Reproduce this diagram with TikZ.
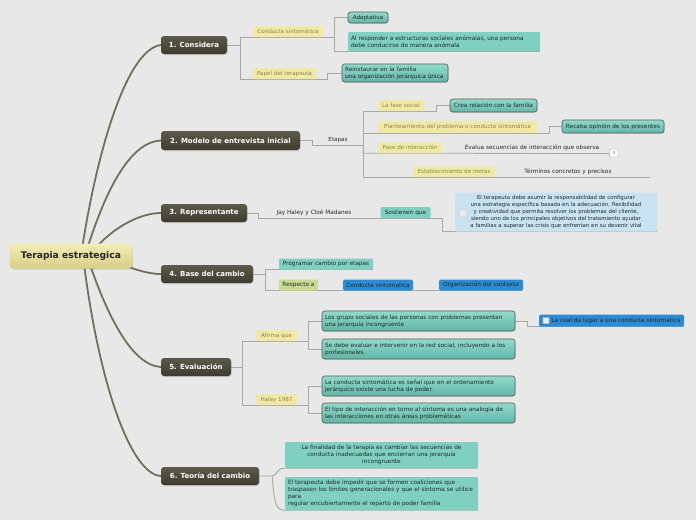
\documentclass[tikz,border=0pt]{standalone}
\usepackage{fontspec}
\setmainfont{DejaVu Sans}
\usepackage{tikz}
\usetikzlibrary{backgrounds, shadows, calc}

\definecolor{bgc}{HTML}{E8E8E8}
\definecolor{trunkc}{HTML}{716F5F}
\definecolor{subc}{HTML}{A9A9A3}
\definecolor{maintop}{HTML}{5C5A4A}
\definecolor{mainbot}{HTML}{3E3C30}
\definecolor{roottop}{HTML}{F3EDB8}
\definecolor{rootbot}{HTML}{D8CE86}
\definecolor{tagc}{HTML}{F0E9A6}
\definecolor{tagtext}{HTML}{8C8450}
\definecolor{tealc}{HTML}{7FD0C0}
\definecolor{tealtop}{HTML}{92DACB}
\definecolor{tealbot}{HTML}{62B5A7}
\definecolor{bluec}{HTML}{2C8BD3}
\definecolor{greenc}{HTML}{C9D98F}
\definecolor{lightblue}{HTML}{C8E2F2}
\definecolor{textc}{HTML}{1F2A2A}

\begin{document}
\begin{tikzpicture}[x=1pt, y=-1pt,
    every node/.style={inner sep=0pt, text=textc, font=\fontsize{5.6}{7}\selectfont},
    boxfont/.style={font=\fontsize{5.8}{7}\selectfont},
    rootbox/.style={rounded corners=4pt, top color=roottop, bottom color=rootbot,
      font=\fontsize{9.2}{11}\selectfont\bfseries, text=black!85,
      drop shadow={opacity=0.25, shadow xshift=0.6pt, shadow yshift=-1pt}},
    mainbox/.style={rounded corners=3pt, top color=maintop, bottom color=mainbot,
      minimum height=18, text=white, font=\fontsize{7}{8}\selectfont\bfseries,
      drop shadow={opacity=0.3, shadow xshift=0.6pt, shadow yshift=-1pt}},
    tagbox/.style={rounded corners=1pt, fill=tagc, minimum height=11, text=tagtext},
    framebox/.style={rounded corners=2.5pt, draw=black!65, line width=0.6pt,
      top color=tealtop, bottom color=tealbot, minimum height=11, inner xsep=3pt,
      drop shadow={opacity=0.2, shadow xshift=0.5pt, shadow yshift=-0.8pt}},
    tealbox/.style={rounded corners=1pt, fill=tealc, minimum height=11, inner xsep=3pt},
    bluebox/.style={rounded corners=1.5pt, fill=bluec, minimum height=11},
    greenbox/.style={rounded corners=1pt, fill=greenc, minimum height=11},
    noteblue/.style={rounded corners=1pt, fill=lightblue},
    plain/.style={minimum height=11},
    badge/.style={draw=black!35, fill=white, rounded corners=1pt, minimum width=9,
      minimum height=8, text=black!55, font=\fontsize{4.5}{5}\selectfont},
    checkbox/.style={draw=black!25, fill=white!85!gray, rounded corners=0.5pt, minimum size=7},
    trunk/.style={draw=trunkc, line width=1.8pt, line cap=round},
    sub/.style={draw=subc, line width=0.9pt}
  ]
  \useasboundingbox (0,0) rectangle (696,520);
  \begin{scope}[on background layer]
    \fill[bgc] (0,0) rectangle (696,520);
  \end{scope}

  \node[rootbox, minimum width=123, minimum height=25] (root) at (71,256) {Terapia estrategica};

  \node[mainbox, minimum width=66] (c1) at (194,45) {1. Considera};
  \node[mainbox, minimum width=139, minimum height=19] (c2) at (230.5,140.5) {2. Modelo de entrevista inicial};
  \node[mainbox, minimum width=86] (c3) at (204,213) {3. Representante};
  \node[mainbox, minimum width=92] (c4) at (207,274) {4. Base del cambio};
  \node[mainbox, minimum width=70] (c5) at (196,367) {5. Evaluación};
  \node[mainbox, minimum width=98] (c6) at (210,476) {6. Teoría del cambio};

  \node[tagbox, minimum width=70] (t1a) at (288,31.5) {Conducta sintomática};
  \node[tagbox, minimum width=63] (t1b) at (284.5,73.5) {Papel del terapeuta};
  \node[framebox, minimum width=40] (n1a) at (368,17.5) {Adaptativa};
  \node[tealbox, boxfont, text width=186, align=left, minimum height=19] (n1b) at (444,41.5)
    {Al responder a estructuras sociales anómalas, una persona\\debe conducirse de manera anómala};
  \node[framebox, boxfont, text width=100, align=left, minimum height=18] (n1c) at (395,73)
    {Reinstaurar en la familia\\una organización jerárquica única};

  \node[plain, minimum width=50] (e2) at (338,140) {Etapas};
  \node[tagbox, minimum width=46] (t2a) at (401,105.5) {La fase social};
  \node[tagbox, minimum width=159, minimum height=12] (t2b) at (457.5,127) {Planteamiento del problema o conducta sintomática};
  \node[tagbox, minimum width=64] (t2c) at (410,147.5) {Pase de interacción};
  \node[tagbox, minimum width=82] (t2d) at (454,171.5) {Establecimiento de metas};
  \node[framebox, boxfont, minimum width=87, minimum height=13] (n2a) at (493.5,105.5) {Crea relación con la familia};
  \node[framebox, boxfont, minimum width=102, minimum height=13] (n2b) at (613,126.5) {Recaba opinión de los presentes};
  \node[plain, boxfont, minimum width=157] (n2c) at (532,148) {Evalua secuencias de interacción que observa};
  \node[badge] (b2c) at (614,153) {3};
  \node[plain, boxfont, minimum width=164] (n2d) at (568,171.5) {Términos concretos y precisos};

  \node[plain, boxfont] (n3a) at (314,212.5) {Jay Haley y Cloé Madanes};
  \node[tealbox, boxfont, minimum width=50] (n3b) at (405.5,212.5) {Sostienen que};
  \node[noteblue, minimum width=202, minimum height=39, text width=188, align=center,
    font=\fontsize{5.4}{7.2}\selectfont] (n3c) at (556,212)
    {El terapeuta debe asumir la responsabilidad de configurar\\
     una estrategia específica basada en la adecuación, flexibilidad\\
     y creatividad que permita resolver los problemas del cliente,\\
     siendo uno de los principales objetivos del tratamiento ayudar\\
     a familias a superar las crisis que enfrentan en su devenir vital};
  \node[checkbox] (k3) at (463,213.5) {};

  \node[tealbox, boxfont, minimum width=94] (n4a) at (326,264) {Programar cambio por etapas};
  \node[greenbox, boxfont, minimum width=39] (n4b) at (298.5,285) {Respecto a};
  \node[bluebox, boxfont, minimum width=70] (n4c) at (378,285) {Conducta sintomatica};
  \node[bluebox, boxfont, minimum width=84] (n4d) at (481,285) {Organización del contexto};

  \node[tagbox, minimum width=41] (t5a) at (276.5,335.5) {Afirma que};
  \node[tagbox, minimum width=41] (t5b) at (276.5,399.5) {Haley 1987};
  \node[framebox, boxfont, text width=187, align=left, minimum height=20] (n5a) at (418.5,321)
    {Los grupo sociales de las personas con problemas presentan\\una jerarquía incongruente};
  \node[framebox, boxfont, text width=187, align=left, minimum height=20] (n5b) at (418.5,349)
    {Se debe evaluar e intervenir en la red social, incluyendo a los\\profesionales.};
  \node[framebox, boxfont, text width=187, align=left, minimum height=20] (n5c) at (418.5,386)
    {La conducta sintomática es señal que en el ordenamiento\\jerárquico existe una lucha de poder.};
  \node[framebox, boxfont, text width=187, align=left, minimum height=20] (n5d) at (418.5,413)
    {El tipo de interacción en torno al síntoma es una analogía de\\las interacciones en otras áreas problemáticas};
  \node[bluebox, boxfont, minimum width=145, minimum height=12] (n5e) at (611.5,320.5)
    {\hspace{9pt}La cual da lugar a una conducta sintomatica};
  \node[checkbox, minimum size=6] (k5) at (546,320.5) {};

  \node[tealbox, boxfont, text width=187, align=center, minimum height=26] (n6a) at (381.5,455)
    {La finalidad de la terapia es cambiar las secuencias de\\conducta inadecuadas que encierran una jerarquía\\incongruente};
  \node[tealbox, boxfont, text width=187, align=left, minimum height=33] (n6b) at (381.5,493.5)
    {El terapeuta debe impedir que se formen coaliciones que\\traspasen los límites generacionales y que el síntoma se utilice\\para\\regular encubiertamente el reparto de poder familia};

  \begin{scope}[on background layer]
    \draw[trunk] ([xshift=10pt]root.center) .. controls (95,160) and (125,50) .. (c1.west);
    \draw[trunk] ([xshift=14pt]root.center) .. controls (105,190) and (130,142) .. (c2.west);
    \draw[trunk] ([xshift=18pt]root.center) .. controls (110,228) and (140,213) .. (c3.west);
    \draw[trunk] ([xshift=22pt]root.center) .. controls (120,262) and (140,274) .. (c4.west);
    \draw[trunk] ([xshift=16pt]root.center) .. controls (105,310) and (130,365) .. (c5.west);
    \draw[trunk] ([xshift=12pt]root.center) .. controls (98,380) and (130,474) .. (c6.west);

    \draw[sub] (c1.east) -- ++(13,0) |- (t1a.south east) -- ++(11,0) |- (n1a.west);
    \draw[sub] (t1a.south east) ++(11,0) |- (n1b.south west) -- (n1b.south east);
    \draw[sub] (c1.east) ++(13,0) |- (t1b.south east) -- ++(11,0) |- (n1c.west);

    \draw[sub] (c2.east) -- ++(12,0) |- (e2.south west) -- (e2.south east);
    \draw[sub] (e2.south east) |- (t2a.south east) -- ++(12,0) |- (n2a.west);
    \draw[sub] (e2.south east) |- (t2b.south east) -- ++(12,0) |- (n2b.west);
    \draw[sub] (e2.south east) |- (t2c.south east) -- (n2c.south east);
    \draw[sub] (e2.south east) |- (t2d.south east) -- (n2d.south east);

    \draw[sub] (c3.east) -- ++(11,0) |- (n3a.south west) -- (n3b.south west) -- (n3b.south east)
      -- ++(12,0) |- (n3c.south west) -- (n3c.south east);

    \draw[sub] (c4.east) -- ++(12,0) |- (n4a.south west) -- (n4a.south east);
    \draw[sub] (c4.east) ++(12,0) |- (n4b.south west) -- (n4d.south east);

    \draw[sub] (c5.east) -- ++(11,0) |- (t5a.south east) -- ++(11,0) |- (n5a.west);
    \draw[sub] (t5a.south east) ++(11,0) |- (n5b.west);
    \draw[sub] (c5.east) ++(11,0) |- (t5b.south east) -- ++(11,0) |- (n5c.west);
    \draw[sub] (t5b.south east) ++(11,0) |- (n5d.west);
    \draw[sub] (n5a.east) -- ++(12,0) |- (n5e.south west) -- (n5e.south east);

    \draw[sub] (c6.east) -- ++(13,0) .. controls +(5,0) and +(-9,0) .. (n6a.south west) -- (n6a.south east);
    \draw[sub] (c6.east) ++(13,0) .. controls +(2,30) and +(-8,0) .. (n6b.south west) -- (n6b.south east);
  \end{scope}
\end{tikzpicture}
\end{document}
